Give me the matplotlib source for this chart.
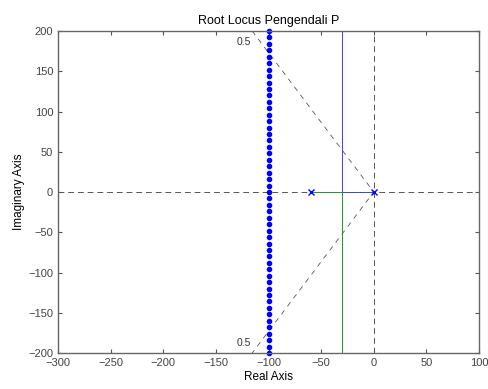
import matplotlib
matplotlib.use("Agg")
import matplotlib.pyplot as plt

plt.rcParams['font.family'] = ['Liberation Sans', 'DejaVu Sans']

# open-loop poles
poles_re = [0, -60]
poles_im = [0, 0]
# branch 1 (blue): pole 0 -> breakaway -> up
b1_re = [0, -30, -30]
b1_im = [0, 0, 200]
# branch 2 (green): pole -60 -> breakaway -> down
b2_re = [-60, -30, -30]
b2_im = [0, 0, -200]
# dotted design line at Re = -100
dots_im = [-200, -192, -184, -176, -168, -160, -152, -144, -136, -128, -120,
           -112, -104, -96, -88, -80, -72, -64, -56, -48, -40, -32, -24, -16,
           -8, 0, 8, 16, 24, 32, 40, 48, 56, 64, 72, 80, 88, 96, 104, 112, 120,
           128, 136, 144, 152, 160, 168, 176, 184, 192, 200]
dots_re = [-100] * len(dots_im)
# damping ratio grid line zeta = 0.5
zeta_re = [-115.5, 0, -115.5]
zeta_im = [200, 0, -200]

xticks = [-300, -250, -200, -150, -100, -50, 0, 50, 100]
yticks = [-200, -150, -100, -50, 0, 50, 100, 150, 200]

fig = plt.figure(figsize=(4.89, 3.89), dpi=100)
ax = fig.add_axes([0.1186, 0.0925, 0.8610, 0.8278])

grid_kw = dict(color='#555555', ls=(0, (6, 4)), lw=0.7)
ax.plot([-300, 100], [0, 0], **grid_kw)
ax.plot([0, 0], [-200, 200], **grid_kw)
ax.plot(zeta_re, zeta_im, color='#555555', ls=(0, (6, 6)), lw=0.6)

ax.plot(b1_re, b1_im, color='#3344ff', lw=0.7)
ax.plot(b2_re, b2_im, color='#229922', lw=0.7)
ax.plot(poles_re, poles_im, 'x', color='#0000ff', ms=4, mew=1)
ax.plot(dots_re, dots_im, 'o', color='#0000ff', ms=3, mec='#0000ff', clip_on=False)

ax.text(-117, 186, '0.5', fontsize=7.5, color='#333333', ha='right', va='center')
ax.text(-117, -187, '0.5', fontsize=7.5, color='#333333', ha='right', va='center')

ax.set_xlim(-300, 100)
ax.set_ylim(-200, 200)
ax.set_xticks(xticks)
ax.set_yticks(yticks)
ax.tick_params(direction='in', length=3, top=True, right=True, labelsize=8,
               colors='#555555', labelcolor='#444444', width=0.8)
for s in ax.spines.values():
    s.set_color('#666666')
    s.set_linewidth(1.0)

ax.set_title('Root Locus Pengendali P', fontsize=9, pad=5)
ax.set_xlabel('Real Axis', fontsize=8.5, labelpad=2)
ax.set_ylabel('Imaginary Axis', fontsize=8.5, labelpad=2)

fig.savefig('out.png', dpi=100)
